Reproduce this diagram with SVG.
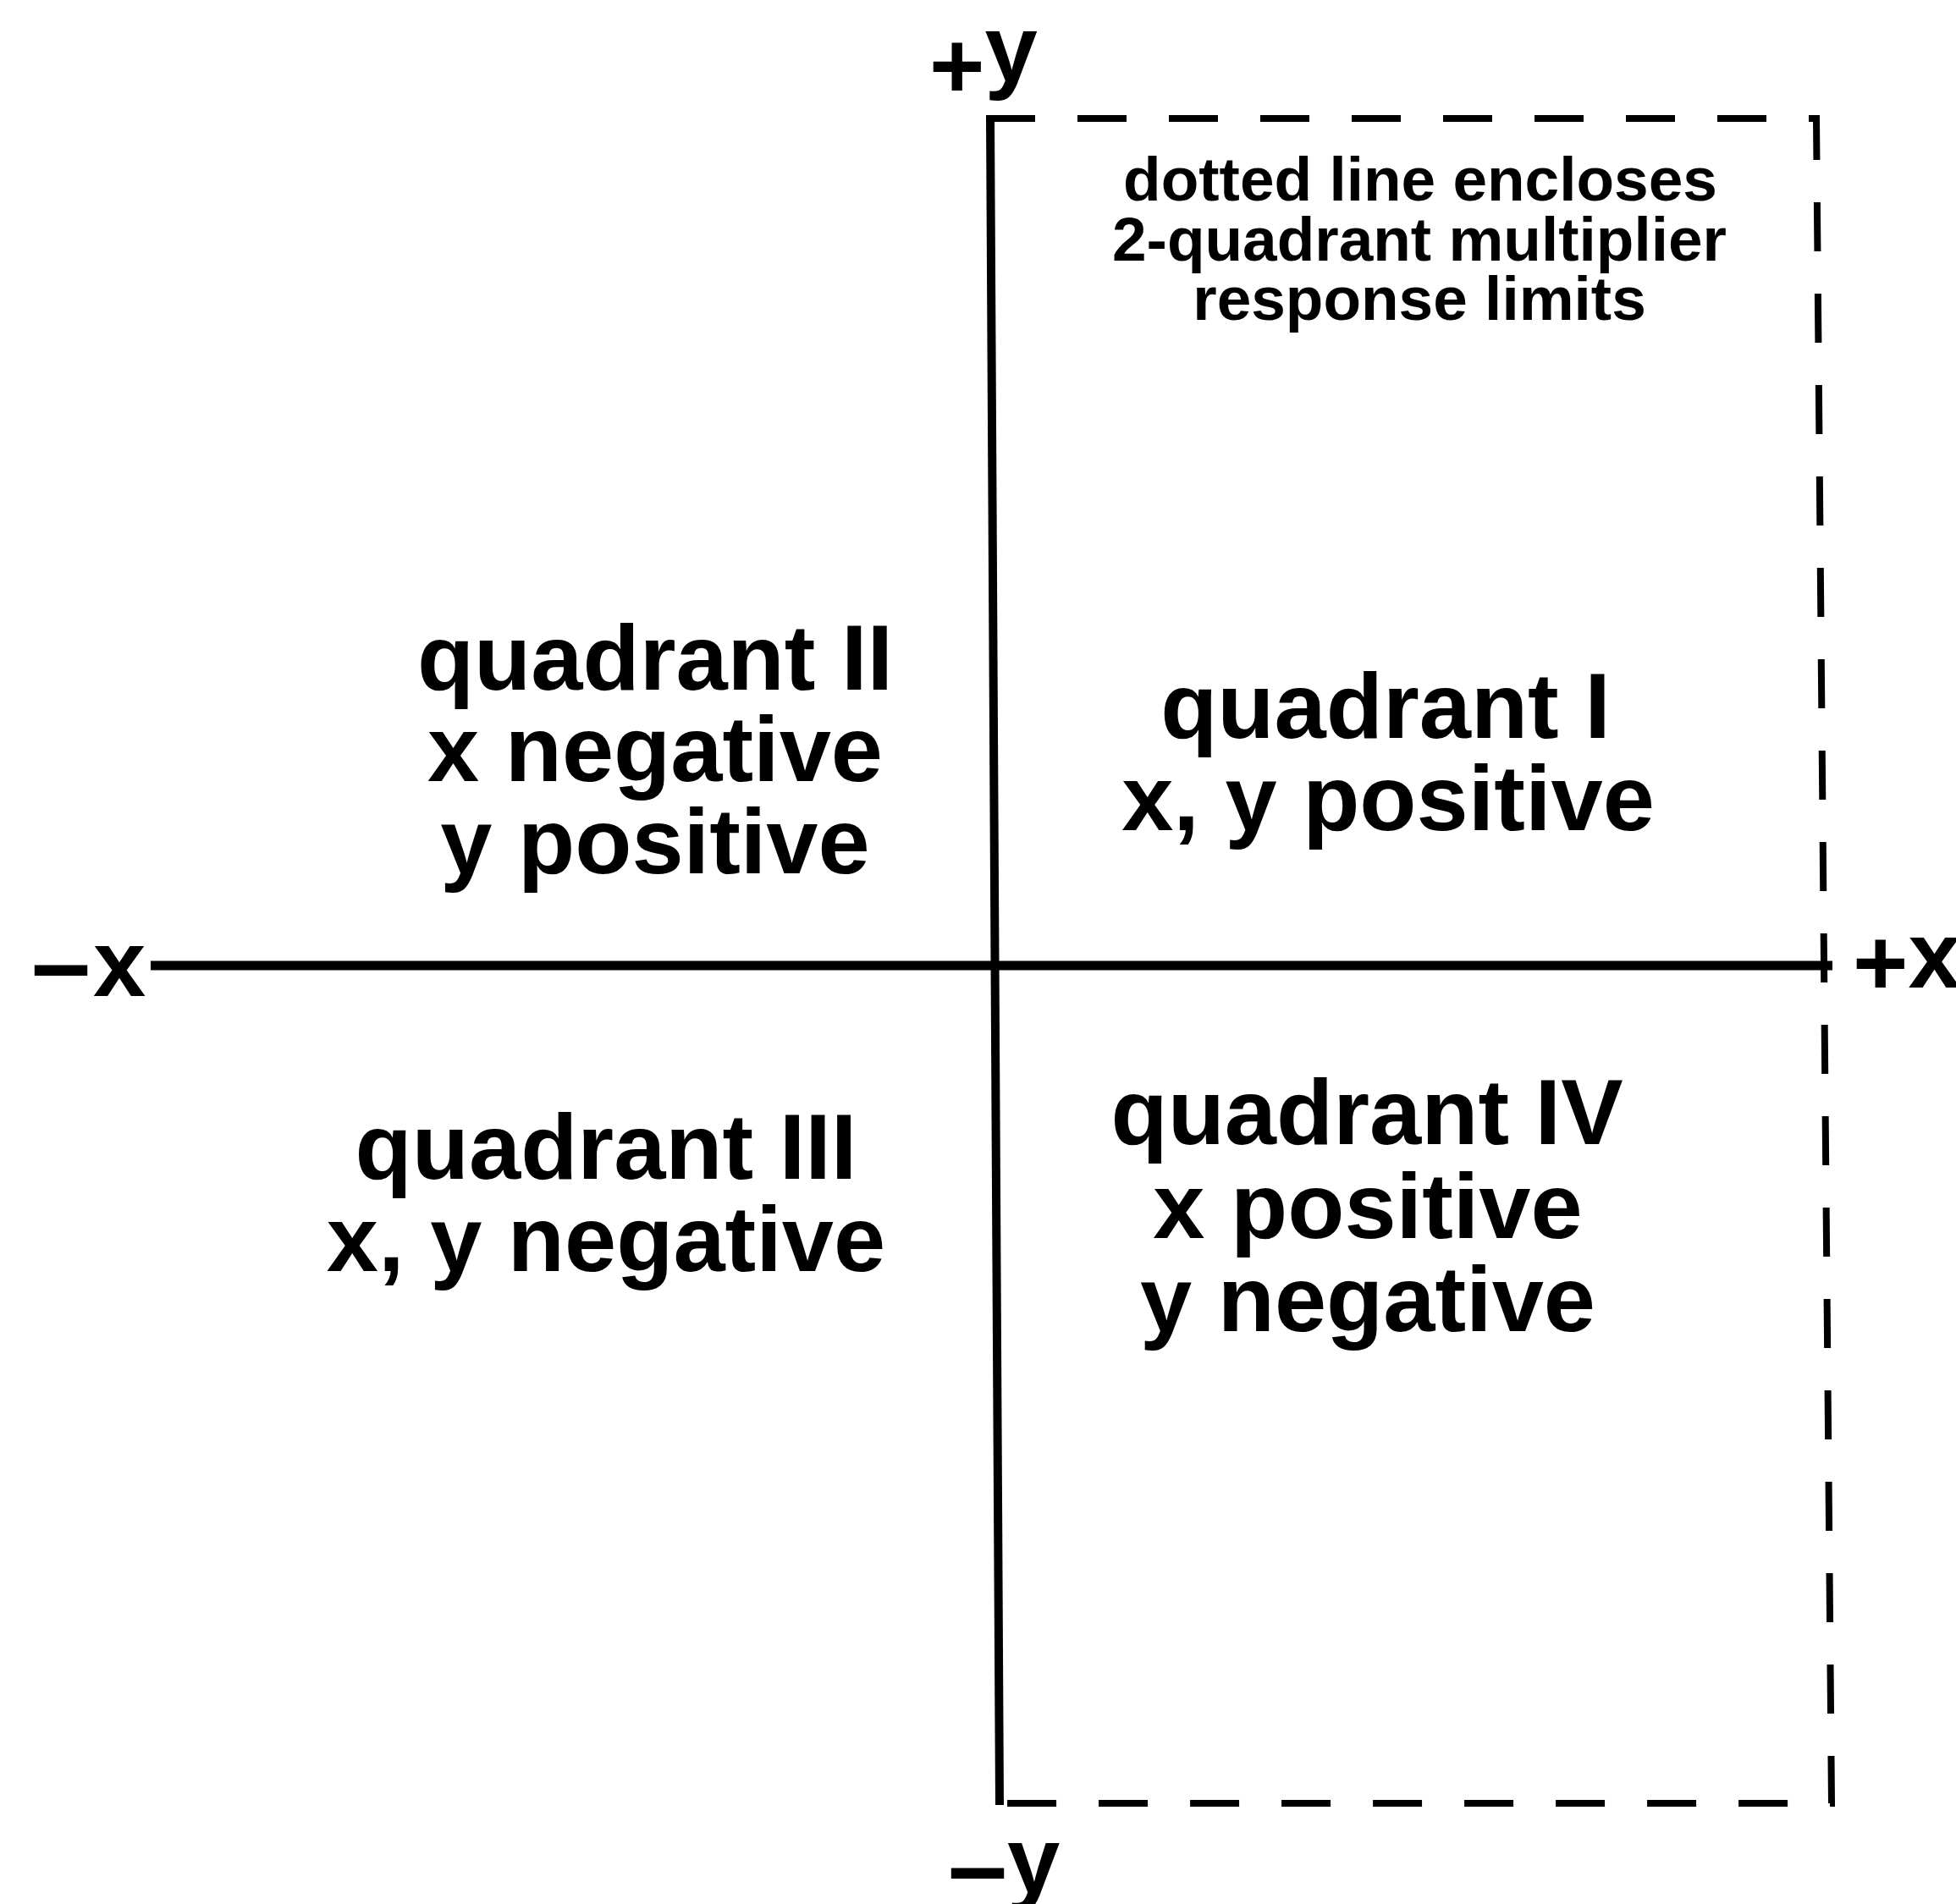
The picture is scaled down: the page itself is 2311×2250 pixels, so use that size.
<svg xmlns="http://www.w3.org/2000/svg" width="2311" height="2250" viewBox="0 0 2311 2250">
  <style>
    text { font-family: "Liberation Sans", Arial, Helvetica, sans-serif; font-weight: bold; fill: #000; }
    .big { font-size: 110px; text-anchor: middle; }
    .note { font-size: 73px; text-anchor: middle; }
    .axlbl { font-size: 112px; }
    .axis { stroke: #000; stroke-width: 10; fill: none; stroke-linecap: butt; }
    .limit { stroke: #000; stroke-width: 8; fill: none; stroke-dasharray: 58 50; }
  </style>
  <rect x="0" y="0" width="2311" height="2250" fill="#fff"/>
  <g id="connectors">
    <path class="limit" d="M1165,140 L2146,140 L2164,2131 L1185,2131"/>
    <line class="axis" x1="1170" y1="138" x2="1181" y2="2133"/>
    <line class="axis" x1="178" y1="1141" x2="2165" y2="1141" style="stroke-width:11"/>
  </g>
  <g id="label-plus-y">
    <text class="axlbl" x="1098" y="96"><tspan dy="20">+</tspan><tspan dy="-20">y</tspan></text>
  </g>
  <g id="label-minus-y">
    <text class="axlbl" x="1120" y="2237"><tspan dy="11" style="font-size:126px">–</tspan><tspan dy="-11">y</tspan></text>
  </g>
  <g id="label-minus-x">
    <text class="axlbl" x="37" y="1177"><tspan dy="4" style="font-size:126px">–</tspan><tspan dy="-4" dx="3">x</tspan></text>
  </g>
  <g id="label-plus-x">
    <text class="axlbl" x="2189" y="1167"><tspan dy="9">+</tspan><tspan dy="-9">x</tspan></text>
  </g>
  <g id="note-limits">
    <text class="note" x="1678" y="237">dotted line encloses</text>
    <text class="note" x="1677" y="308">2-quadrant multiplier</text>
    <text class="note" x="1677" y="378">response limits</text>
  </g>
  <g id="quadrant-1">
    <text class="big" x="1637" y="872">quadrant I</text>
    <text class="big" x="1640" y="981">x, y positive</text>
  </g>
  <g id="quadrant-2">
    <text class="big" x="774" y="815">quadrant II</text>
    <text class="big" x="774" y="923">x negative</text>
    <text class="big" x="774" y="1032">y positive</text>
  </g>
  <g id="quadrant-3">
    <text class="big" x="716" y="1393">quadrant III</text>
    <text class="big" x="716" y="1502">x, y negative</text>
  </g>
  <g id="quadrant-4">
    <text class="big" x="1615" y="1352">quadrant IV</text>
    <text class="big" x="1616" y="1463">x positive</text>
    <text class="big" x="1616" y="1573">y negative</text>
  </g>
</svg>
